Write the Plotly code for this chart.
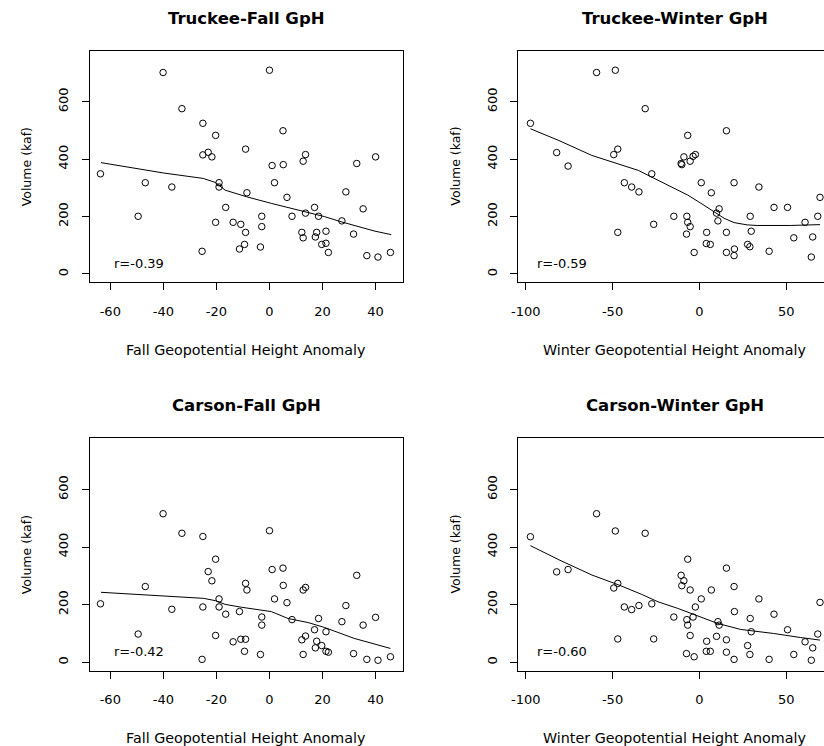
import plotly.graph_objects as go

# ---- data -------------------------------------------------------------
fall_gph = [-63.7, -49.5, -46.8, -40.1, -36.8, -33.0, -25.4, -25.1, -25.1, -23.1,
            -21.7, -20.3, -20.3, -19.0, -19.0, -16.5, -13.7, -11.3, -10.8, -9.4,
            -9.0, -9.0, -8.5, -3.4, -2.9, -2.9, 0.0, 1.0, 1.9, 5.1,
            5.2, 6.6, 8.5, 12.2, 12.7, 12.7, 13.6, 13.6, 17.0, 17.3,
            17.8, 18.5, 19.7, 21.3, 21.3, 22.2, 27.3, 28.8, 31.7, 32.9,
            35.3, 36.7, 40.0, 40.9, 45.6]
truckee_fall_vol = [349, 201, 318, 702, 303, 576, 79, 525, 415, 424,
                    408, 483, 180, 318, 303, 232, 180, 87, 173, 103,
                    435, 145, 283, 94, 201, 165, 710, 378, 318, 499,
                    381, 267, 201, 145, 393, 126, 416, 212, 232, 129,
                    145, 201, 103, 149, 107, 75, 185, 286, 139, 385,
                    227, 64, 408, 59, 75]
carson_fall_vol = [203, 98, 263, 516, 184, 448, 10, 437, 192, 315,
                   283, 358, 93, 220, 192, 167, 71, 176, 80, 38,
                   274, 80, 251, 27, 157, 129, 457, 322, 220, 327,
                   267, 207, 148, 78, 251, 27, 260, 91, 113, 50,
                   73, 152, 58, 106, 38, 35, 141, 197, 30, 302,
                   129, 10, 156, 7, 19]

winter_gph = [-97.3, -82.2, -75.6, -59.2, -48.4, -49.3, -47.0, -47.0, -43.2, -39.0,
              -34.8, -31.2, -27.4, -26.3, -14.7, -10.5, -10.1, -8.9, -6.7, -5.3,
              -3.6, -2.3, -7.2, -6.7, -5.3, -7.4, -3.0, 1.1, 6.9, 4.2,
              4.0, 6.3, 11.4, 9.9, 10.7, 15.6, 15.6, 15.6, 20.0, 20.2,
              20.0, 29.3, 29.9, 27.8, 29.1, 34.3, 40.2, 43.0, 50.8, 54.4,
              60.9, 65.3, 64.5, 68.2, 69.5]
truckee_winter_vol = [525, 423, 376, 702, 710, 416, 435, 145, 318, 303,
                      286, 576, 349, 173, 201, 385, 381, 408, 483, 393,
                      410, 416, 201, 180, 165, 139, 75, 318, 283, 145,
                      106, 103, 227, 212, 185, 499, 145, 75, 318, 87,
                      64, 201, 149, 103, 95, 303, 79, 232, 232, 126,
                      180, 129, 59, 201, 267]
carson_winter_vol = [436, 314, 322, 516, 456, 258, 274, 81, 192, 183,
                     197, 448, 203, 81, 157, 302, 266, 283, 358, 251,
                     157, 192, 148, 129, 93, 30, 19, 220, 251, 73,
                     38, 38, 129, 90, 141, 327, 78, 35, 263, 176,
                     10, 152, 106, 58, 27, 220, 10, 167, 113, 27,
                     71, 50, 7, 98, 208]

# smoothed (lowess) curves
truckee_fall_fit_x = [-63.5, -40.0, -25.0, -20.4, -16.7, -8.6, 0.7, 13.2, 20.7, 27.0, 39.4, 45.9]
truckee_fall_fit_y = [388, 352, 333, 319, 292, 269, 246, 217, 200, 182, 150, 137]
truckee_winter_fit_x = [-97.3, -80.9, -61.9, -48.5, -35.2, -27.6, -16.2, -6.7, 1.0, 8.6, 14.3, 20.0, 27.6, 33.3, 52.4, 69.5]
truckee_winter_fit_y = [506, 465, 413, 387, 361, 338, 304, 275, 246, 217, 194, 179, 171, 169, 169, 172]
carson_fall_fit_x = [-63.5, -46.6, -36.7, -24.8, -20.4, -16.7, -10.5, 0.7, 7.0, 14.5, 20.7, 31.9, 45.6]
carson_fall_fit_y = [243, 234, 228, 222, 214, 201, 191, 176, 152, 138, 121, 83, 48]
carson_winter_fit_x = [-97.3, -80.9, -61.9, -46.6, -33.3, -23.8, -12.4, -1.0, 10.5, 23.8, 42.8, 58.1, 69.5]
carson_winter_fit_y = [405, 356, 303, 269, 236, 210, 187, 162, 135, 114, 100, 86, 77]

titles = ["Truckee-Fall GpH", "Truckee-Winter GpH", "Carson-Fall GpH", "Carson-Winter GpH"]
r_labels = ["r=-0.39", "r=-0.59", "r=-0.42", "r=-0.60"]
x_titles = ["Fall Geopotential Height Anomaly", "Winter Geopotential Height Anomaly"]
y_title = "Volume (kaf)"
fall_ticks = [-60, -40, -20, 0, 20, 40]
fall_tick_labels = ["-60", "-40", "-20", "0", "20", "40"]
winter_ticks = [-100, -50, 0, 50]
winter_tick_labels = ["-100", "-50", "0", "50"]
vol_ticks = [0, 200, 400, 600]
vol_tick_labels = ["0", "200", "400", "600"]

# ---- layout geometry (pixels) ------------------------------------------
W, H = 824, 746
FONT = "DejaVu Sans"
col_px = [(83.3, 399.3), (515.3, 824.0)]
row_px = [(50.7, 282.3), (438.3, 670.6)]
x_ranges = [[-67.8, 50.3], [-104.5, 71.8]]
y_range = [-29, 778]


def px_x(p):
    return p / W


def px_y(p):
    return 1 - p / H


panels = [
    (0, 0, fall_gph, truckee_fall_vol, truckee_fall_fit_x, truckee_fall_fit_y),
    (0, 1, winter_gph, truckee_winter_vol, truckee_winter_fit_x, truckee_winter_fit_y),
    (1, 0, fall_gph, carson_fall_vol, carson_fall_fit_x, carson_fall_fit_y),
    (1, 1, winter_gph, carson_winter_vol, carson_winter_fit_x, carson_winter_fit_y),
]

fig = go.Figure()
annotations = []
layout_axes = {}

for i, (row, col, xs, ys, fx, fy) in enumerate(panels):
    n = i + 1
    xa = "x" if n == 1 else f"x{n}"
    ya = "y" if n == 1 else f"y{n}"
    fig.add_trace(go.Scatter(
        x=xs, y=ys, mode="markers", xaxis=xa, yaxis=ya, showlegend=False,
        marker=dict(symbol="circle-open", size=6.5, color="black",
                    line=dict(width=1, color="black")),
    ))
    fig.add_trace(go.Scatter(
        x=fx, y=fy, mode="lines", xaxis=xa, yaxis=ya, showlegend=False,
        line=dict(color="black", width=1),
    ))

    x0, x1 = col_px[col]
    top, bot = row_px[row]
    layout_axes["xaxis" if n == 1 else f"xaxis{n}"] = dict(
        domain=[px_x(x0), px_x(x1)], anchor=ya, range=x_ranges[col],
        tickmode="array",
        tickvals=fall_ticks if col == 0 else winter_ticks,
        ticktext=fall_tick_labels if col == 0 else winter_tick_labels,
        ticks="outside", ticklen=7, tickwidth=1, tickcolor="black",
        showline=True, mirror=True, linecolor="black", linewidth=1,
        showgrid=False, zeroline=False, ticklabelstandoff=10,
        tickfont=dict(family=FONT, size=13, color="black"),
    )
    layout_axes["yaxis" if n == 1 else f"yaxis{n}"] = dict(
        domain=[px_y(bot), px_y(top)], anchor=xa, range=y_range,
        tickmode="array", tickvals=vol_ticks, ticktext=vol_tick_labels, tickangle=-90,
        ticks="outside", ticklen=7, tickwidth=1, tickcolor="black",
        showline=True, mirror=(col == 0), linecolor="black", linewidth=1,
        showgrid=False, zeroline=False, ticklabelstandoff=8,
        tickfont=dict(family=FONT, size=13, color="black"),
    )

    # the right-hand frames run past the page edge; centre text on the full frame
    cx = (x0 + 831.8) / 2 if col == 1 else (x0 + x1) / 2
    # panel title
    annotations.append(dict(
        text=f"<b>{titles[i]}</b>", x=px_x(cx), y=px_y(top - 32.5),
        xref="paper", yref="paper", showarrow=False, xanchor="center", yanchor="middle",
        font=dict(family=FONT, size=16.5, color="black"),
    ))
    # x axis title
    annotations.append(dict(
        text=x_titles[col], x=px_x(cx), y=px_y(bot + 67.5),
        xref="paper", yref="paper", showarrow=False, xanchor="center", yanchor="middle",
        font=dict(family=FONT, size=14.3, color="black"),
    ))
    # y axis title
    annotations.append(dict(
        text=y_title, x=px_x(x0 - 63.3), y=px_y((top + bot) / 2), textangle=-90,
        xref="paper", yref="paper", showarrow=False, xanchor="center", yanchor="middle",
        font=dict(family=FONT, size=12.5, color="black"),
    ))
    # correlation label
    annotations.append(dict(
        text=r_labels[i], x=px_x(x0 + 22.4 if col == 0 else x0 + 17.4), y=px_y(bot - 19.3),
        xref="paper", yref="paper", showarrow=False, xanchor="left", yanchor="middle",
        font=dict(family=FONT, size=13, color="black"),
    ))

fig.update_layout(
    width=W, height=H, margin=dict(l=0, r=0, t=0, b=0),
    paper_bgcolor="white", plot_bgcolor="white",
    annotations=annotations, **layout_axes,
)

# the figure fills the page exactly, so drop the browser's default body margin
fig.write_html("out.html", post_script="document.body.style.margin='0';")
